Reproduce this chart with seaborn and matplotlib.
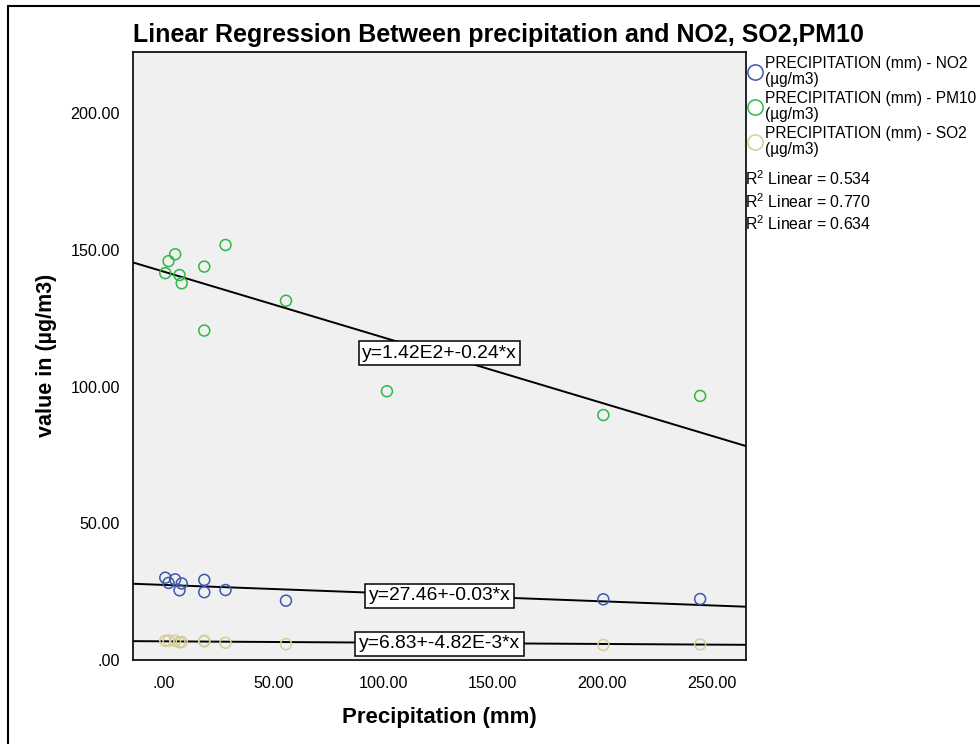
import numpy as np
import pandas as pd
import matplotlib
matplotlib.use('Agg')
import matplotlib.pyplot as plt
from matplotlib.lines import Line2D
import seaborn as sns

# precipitation (mm) per observation, shared by all three pollutants
precip = [0.5, 2.0, 5.0, 7.0, 8.0, 18.3, 18.3, 28.0, 55.6, 101.7, 200.5, 244.7]
no2 = [30.1, 28.2, 29.5, 25.5, 28.0, 29.3, 24.8, 25.6, 21.7, 24.0, 22.2, 22.3]
pm10 = [141.5, 145.9, 148.4, 140.8, 137.8, 143.9, 120.5, 151.8, 131.4, 98.3, 89.6, 96.6]
so2 = [7.0, 7.1, 7.0, 6.5, 6.6, 7.0, 6.8, 6.3, 5.8, 6.2, 5.5, 5.7]

series_names = ['NO2', 'PM10', 'SO2']
series_colors = ['#3E58AC', '#2EB848', '#D3CE97']
intercepts = [27.46, 142.0, 6.83]
slopes = [-0.03, -0.24, -4.82e-3]
eq_labels = ['y=27.46+-0.03*x', 'y=1.42E2+-0.24*x', 'y=6.83+-4.82E-3*x']
eq_pos_y = [23.5, 112.2, 5.9]
eq_pos_x = 125.7
r2_values = ['0.534', '0.770', '0.634']

x_ticks = [0, 50, 100, 150, 200, 250]
x_tick_labels = ['.00', '50.00', '100.00', '150.00', '200.00', '250.00']
y_ticks = [0, 50, 100, 150, 200]
y_tick_labels = ['.00', '50.00', '100.00', '150.00', '200.00']

df = pd.DataFrame({
    'precip': precip * 3,
    'value': no2 + pm10 + so2,
    'series': ['NO2'] * len(no2) + ['PM10'] * len(pm10) + ['SO2'] * len(so2),
})

sns.set_style('white')
plt.rcParams['font.family'] = ['Liberation Sans', 'DejaVu Sans']
plt.rcParams['text.color'] = 'black'
plt.rcParams['axes.labelcolor'] = 'black'
plt.rcParams['mathtext.fontset'] = 'custom'
plt.rcParams['mathtext.rm'] = 'Liberation Sans'

W, H = 980, 744
fig = plt.figure(figsize=(W / 100, H / 100), dpi=100)
ax = fig.add_axes([133.3 / W, 1 - 660 / H, (745.7 - 133.3) / W, (660 - 51.7) / H])
ax.set_facecolor('#F0F0F0')

xlim = (-14.1, 265.5)
ylim = (0, 222.5)

# regression lines from the fitted coefficients
xs = np.array(xlim)
for b0, b1 in zip(intercepts, slopes):
    ax.plot(xs, b0 + b1 * xs, color='black', lw=1.4, zorder=2)

sns.scatterplot(data=df, x='precip', y='value', hue='series',
                palette=dict(zip(series_names, series_colors)),
                s=62, linewidth=1.1, legend=False, ax=ax, zorder=3)
coll = ax.collections[0]
coll.set_edgecolors(coll.get_facecolors())
coll.set_facecolors('none')

for lab, yy in zip(eq_labels, eq_pos_y):
    ax.text(eq_pos_x, yy, lab, ha='center', va='center', fontsize=13.9,
            zorder=5, bbox=dict(boxstyle='square,pad=0.18', fc='white',
                                ec='black', lw=1.1))

ax.set_xlim(xlim)
ax.set_ylim(ylim)
ax.set_xticks(x_ticks)
ax.set_xticklabels(x_tick_labels)
ax.set_yticks(y_ticks)
ax.set_yticklabels(y_tick_labels)
ax.tick_params(axis='both', direction='out', length=7.2, width=1.2,
               colors='black', labelsize=11.6)
ax.tick_params(axis='x', pad=4)
ax.tick_params(axis='y', pad=2.4)
for sp in ax.spines.values():
    sp.set_visible(True)
    sp.set_color('black')
    sp.set_linewidth(1.2)

ax.set_xlabel('Precipitation (mm)', fontsize=16, fontweight='bold', labelpad=12)
ax.set_ylabel('value in (µg/m3)', fontsize=15.5, fontweight='bold', labelpad=10)
ax.set_title('Linear Regression Between precipitation and NO2, SO2,PM10',
             loc='left', fontsize=18, fontweight='bold', pad=7)

# legend on the right
handles = [Line2D([], [], ls='none', marker='o', markersize=11,
                  markerfacecolor='none', markeredgecolor=c, markeredgewidth=1.1)
           for c in series_colors]
labels = ['PRECIPITATION (mm) - %s\n(µg/m3)' % n for n in series_names]
leg = ax.legend(handles, labels, loc='upper left', frameon=False,
                bbox_to_anchor=(746 / W, 1 - 56 / H), bbox_transform=fig.transFigure,
                fontsize=11.2, handlelength=1.1, handletextpad=0.15,
                labelspacing=0.28, borderpad=0, borderaxespad=0)
for t in leg.get_texts():
    t.set_linespacing(1.05)

for i, r2 in enumerate(r2_values):
    fig.text(745 / W, 1 - (179 + 22.5 * i) / H, 'R$^2$ Linear = ' + r2,
             fontsize=11.4, ha='left', va='center')

# screenshot frame (left and top edges)
fig.add_artist(Line2D([8 / W, 8 / W], [0, 1 - 6 / H], transform=fig.transFigure,
                      color='black', lw=1.5))
fig.add_artist(Line2D([8 / W, 1], [1 - 6 / H, 1 - 6 / H], transform=fig.transFigure,
                      color='black', lw=1.5))

fig.savefig('out.png', dpi=100, facecolor='white')
